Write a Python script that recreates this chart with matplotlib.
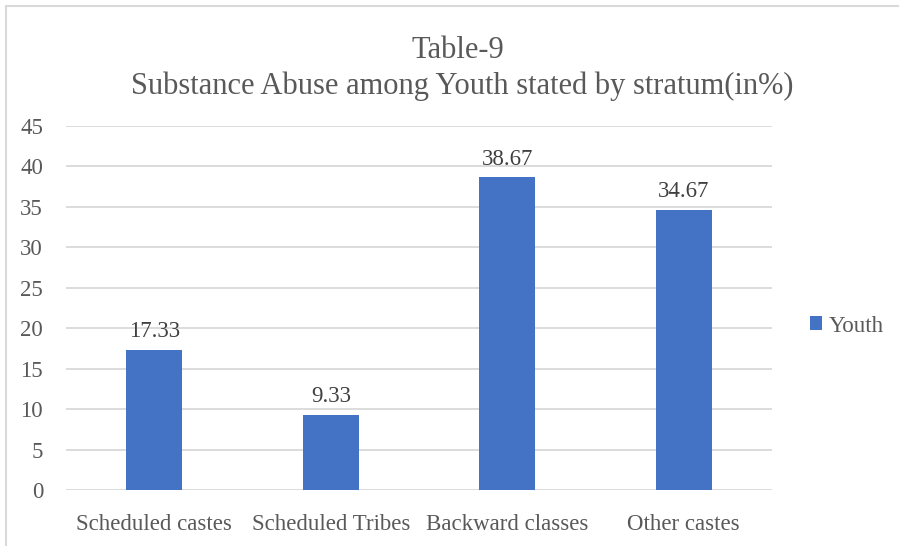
import matplotlib
matplotlib.use("Agg")
import matplotlib.pyplot as plt
from matplotlib.patches import Rectangle

categories = ["Scheduled castes", "Scheduled Tribes", "Backward classes", "Other castes"]
youth = [17.33, 9.33, 38.67, 34.67]
value_labels = ["17.33", "9.33", "38.67", "34.67"]
yticks = [0, 5, 10, 15, 20, 25, 30, 35, 40, 45]

plt.rcParams['font.family'] = ['Liberation Serif', 'DejaVu Serif']
TXT = "#595959"
LBL = "#404040"
BAR = "#4472C4"
GRID = "#D9D9D9"

W, H = 899, 546
fig = plt.figure(figsize=(W / 100, H / 100), dpi=100)

# outer chart frame (open at right/bottom, as cropped in the reference)
fig.patches.append(Rectangle((6 / W, -0.1), 1.2, (H - 6) / H + 0.1, transform=fig.transFigure,
                             fill=False, edgecolor=GRID, linewidth=1.5))

ax = fig.add_axes([66 / W, 1 - 490 / H, (772 - 66) / W, (490 - 126) / H])
x = list(range(len(categories)))
bars = ax.bar(x, youth, width=0.317, color=BAR, label="Youth", zorder=3)
ax.set_xlim(-0.5, len(categories) - 0.5)
ax.set_ylim(0, 45)
ax.set_yticks(yticks)
ax.set_yticklabels([str(t) for t in yticks])
ax.set_xticks(x)
ax.set_xticklabels(categories)
ax.yaxis.grid(True, color=GRID, linewidth=1.3, zorder=0)
ax.set_axisbelow(True)
for s in ax.spines.values():
    s.set_visible(False)
ax.tick_params(axis='both', length=0, labelsize=16.5, labelcolor=TXT)
ax.tick_params(axis='y', pad=16.5)
ax.tick_params(axis='x', pad=17.5)

for b, lab in zip(bars, value_labels):
    ax.annotate(lab, (b.get_x() + b.get_width() / 2, b.get_height()),
                xytext=(0, 5.5), textcoords="offset points", ha="center", va="bottom",
                fontsize=16.5, color=LBL)

fig.text(458 / W, 1 - 50 / H, "Table-9", ha="center", va="center", fontsize=22, color=TXT)
fig.text(462 / W, 1 - 86 / H, "Substance Abuse among Youth stated by stratum(in%)",
         ha="center", va="center", fontsize=22, color=TXT)

fig.legend(handles=[bars], labels=["Youth"], loc="center left",
           bbox_to_anchor=(789 / W, 1 - 326 / H), frameon=False, fontsize=16.5,
           labelcolor=TXT, handlelength=0.55, handleheight=0.55, handletextpad=0.3)

fig.savefig("out.png", dpi=100)
